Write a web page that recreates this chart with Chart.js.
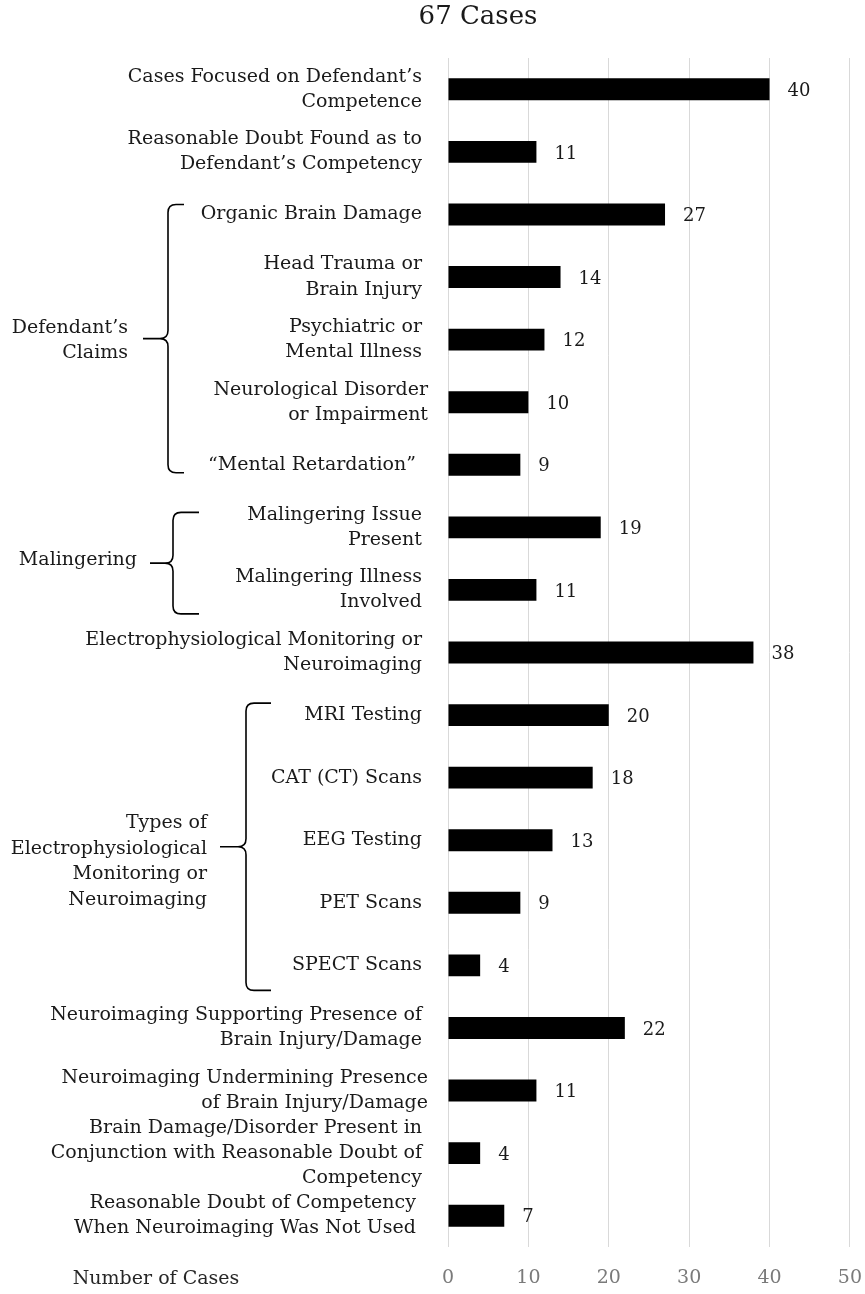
<!DOCTYPE html>
<html><head><meta charset="utf-8">
<script src="https://cdn.jsdelivr.net/npm/chart.js@4.4.1/dist/chart.umd.min.js"></script>
<style>html,body{margin:0;padding:0;background:#fff}#wrap{width:865px;height:1294px}</style>
</head><body><div id="wrap"><canvas id="c" width="865" height="1294"></canvas></div>
<script>
const chartTitle = '67 Cases';
const categories = [
  ['Cases Focused on Defendant’s ', 'Competence '],
  ['Reasonable Doubt Found as to ', 'Defendant’s Competency '],
  'Organic Brain Damage ',
  ['Head Trauma or ', 'Brain Injury '],
  ['Psychiatric or ', 'Mental Illness '],
  ['Neurological Disorder', 'or Impairment'],
  '“Mental Retardation”  ',
  ['Malingering Issue ', 'Present '],
  ['Malingering Illness ', 'Involved '],
  ['Electrophysiological Monitoring or ', 'Neuroimaging '],
  'MRI Testing ',
  'CAT (CT) Scans ',
  'EEG Testing ',
  'PET Scans ',
  'SPECT Scans ',
  ['Neuroimaging Supporting Presence of ', 'Brain Injury/Damage '],
  ['Neuroimaging Undermining Presence', 'of Brain Injury/Damage'],
  ['Brain Damage/Disorder Present in ', 'Conjunction with Reasonable Doubt of ', 'Competency '],
  ['Reasonable Doubt of Competency  ', 'When Neuroimaging Was Not Used  ']
];
const caseCounts = [40, 11, 27, 14, 12, 10, 9, 19, 11, 38, 20, 18, 13, 9, 4, 22, 11, 4, 7];
const xTickValues = [0, 10, 20, 30, 40, 50];
const xAxisLabel = 'Number of Cases';
const groupNames = [['Defendant’s', 'Claims'], ['Malingering'], ['Types of', 'Electrophysiological', 'Monitoring or', 'Neuroimaging']];
const groupFirst = [2, 7, 10];
const groupLast = [6, 8, 14];

const FONT = 'DejaVu Serif';
// brace styling (pixel offsets/positions)
const braceStyle = [
  {tip: 143, vline: 168, end: 184, topOff: -10, botOff: 8, labelRight: 128, labelOff: 2},
  {tip: 150, vline: 173, end: 199, topOff: -15, botOff: 24, labelRight: 137, labelOff: -3},
  {tip: 220, vline: 246, end: 271, topOff: -12, botOff: 25, labelRight: 207, labelOff: 15}
];

function drawBrace(ctx, s, yTop, yBot) {
  const yMid = (yTop + yBot) / 2;
  const r = 8;
  const xV = s.vline;
  ctx.beginPath();
  ctx.moveTo(s.end, yTop);
  ctx.lineTo(xV + r, yTop);
  ctx.quadraticCurveTo(xV, yTop, xV, yTop + r);
  ctx.lineTo(xV, yMid - r);
  ctx.quadraticCurveTo(xV, yMid, xV - r, yMid);
  ctx.lineTo(s.tip, yMid);
  ctx.moveTo(xV - r, yMid);
  ctx.quadraticCurveTo(xV, yMid, xV, yMid + r);
  ctx.lineTo(xV, yBot - r);
  ctx.quadraticCurveTo(xV, yBot, xV + r, yBot);
  ctx.lineTo(s.end, yBot);
  ctx.stroke();
  return yMid;
}

const overlay = {
  id: 'overlay',
  afterDatasetsDraw(chart) {
    const ctx = chart.ctx;
    const meta = chart.getDatasetMeta(0);
    ctx.save();
    ctx.fillStyle = '#1a1a1a';
    ctx.font = '18px "' + FONT + '"';
    ctx.textAlign = 'left';
    ctx.textBaseline = 'middle';
    meta.data.forEach((bar, i) => {
      ctx.fillText(String(caseCounts[i]), bar.x + 18, bar.y + 2);
    });
    ctx.restore();
  },
  afterDraw(chart) {
    const ctx = chart.ctx;
    const y = chart.scales.y;
    ctx.save();
    ctx.fillStyle = '#1a1a1a';
    ctx.font = '26px "' + FONT + '"';
    ctx.textAlign = 'center';
    ctx.textBaseline = 'middle';
    ctx.fillText(chartTitle, 478, 17);
    ctx.font = '19px "' + FONT + '"';
    ctx.fillStyle = '#262626';
    ctx.fillText(xAxisLabel, 156, 1279);
    ctx.strokeStyle = '#000';
    ctx.lineWidth = 1.6;
    groupNames.forEach((name, g) => {
      const s = braceStyle[g];
      const yTop = y.getPixelForValue(groupFirst[g]) + s.topOff;
      const yBot = y.getPixelForValue(groupLast[g]) + s.botOff;
      const yMid = drawBrace(ctx, s, yTop, yBot);
      ctx.fillStyle = '#1a1a1a';
      ctx.font = '19px "' + FONT + '"';
      ctx.textAlign = 'right';
      ctx.textBaseline = 'middle';
      const lh = 25.5;
      const c = yMid + s.labelOff;
      name.forEach((line, k) => {
        ctx.fillText(line, s.labelRight, c + (k - (name.length - 1) / 2) * lh);
      });
    });
    ctx.restore();
  }
};

new Chart(document.getElementById('c'), {
  type: 'bar',
  data: {
    labels: categories,
    datasets: [{
      data: caseCounts,
      backgroundColor: '#000',
      borderWidth: 0,
      barPercentage: 0.35,
      categoryPercentage: 1
    }]
  },
  options: {
    indexAxis: 'y',
    responsive: false,
    animation: false,
    devicePixelRatio: 1,
    layout: {padding: {top: 58, right: 15, left: 0, bottom: 0}},
    plugins: {legend: {display: false}, title: {display: false}, tooltip: {enabled: false}},
    scales: {
      x: {
        min: 0, max: 50,
        afterBuildTicks: s => { s.ticks = xTickValues.map(v => ({value: v})); },
        ticks: {color: '#7a7a7a', font: {family: FONT, size: 19, lineHeight: 2.95}, padding: 3},
        grid: {color: '#d9d9d9', lineWidth: 1, drawTicks: false},
        border: {display: false},
        afterFit: s => { s.height = 47; }
      },
      y: {
        ticks: {color: '#1a1a1a', font: {family: FONT, size: 19, lineHeight: 1.32}, padding: 20, autoSkip: false},
        grid: {display: false, drawTicks: false},
        border: {display: false},
        afterFit: s => { s.width = 448; }
      }
    }
  },
  plugins: [overlay]
});
</script>
</body></html>
